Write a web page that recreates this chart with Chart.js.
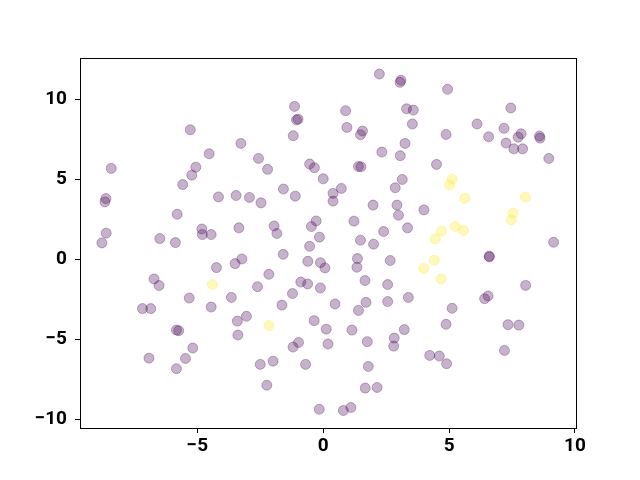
<!DOCTYPE html>
<html>
<head>
<meta charset="utf-8">
<script src="https://cdn.jsdelivr.net/npm/chart.js@4"></script>
<style>
  html, body { margin: 0; padding: 0; background: #fff; }
</style>
</head>
<body>
<canvas id="graf" width="640" height="480"></canvas>
<script>
// clase 0 (morado)
const moradoX = [2.23, 3.09, 3.05, 4.94, -1.14, -1.06, -1.0, -1.19, -3.27, -4.53, -2.57, -2.21, -0.54, -0.35, 0.0,
  -5.28, -8.42, -5.06, -5.22, -5.58, 0.89, 3.31, 3.58, 3.54, 0.94, 1.56, 1.48, 4.88, 3.25, 2.33, 3.06, 1.40, 1.50,
  4.50, 3.14, 7.45, 6.11, 7.18, 6.57, 7.86, 7.74, 8.59, 8.61, 7.26, 7.57, 7.92, 8.96, -8.63, -8.67, -5.80, -4.82,
  -4.80, -8.62, -8.79, -6.49, -5.87, -6.72, -6.52, -5.32, -7.18, -6.85, -4.16, -3.46, -2.93, -2.47, -1.58, -1.11,
  0.39, 0.39, 0.72, -4.45, -3.35, -1.95, -1.84, -0.28, -0.47, -0.15, -0.54, -1.59, -3.23, -3.50, -4.24, -0.61,
  -0.11, 0.07, -2.16, -2.61, -0.89, -0.62, -0.11, -3.65, -1.22, -4.45, -1.64, 2.86, 1.98, 2.93, 2.99, 4.0, 1.22,
  2.40, 3.35, 1.48, 2.0, 1.36, 1.34, 2.66, 1.66, 2.56, 0.47, 1.70, 2.56, 3.38, 1.40, 5.12, 9.15, 6.59, 6.60, 8.04,
  6.55, 6.41, -5.83, -5.74, -5.18, -6.92, -5.47, -5.83, -3.41, -3.05, -3.39, -0.36, 0.12, 0.19, -0.98, -1.20,
  -2.50, -1.99, -0.70, -2.24, -0.16, 1.14, 1.75, 3.22, 2.82, 2.80, 4.88, 4.23, 4.61, 4.90, 1.79, 1.67, 2.14, 0.80,
  1.10, 7.34, 7.77, 7.20];
const moradoY = [11.56, 11.17, 11.04, 10.61, 9.54, 8.69, 8.75, 7.71, 7.23, 6.58, 6.29, 5.61, 5.94, 5.71, 5.02,
  8.08, 5.67, 5.75, 5.25, 4.66, 9.27, 9.39, 9.31, 8.44, 8.23, 8.0, 7.77, 7.79, 7.23, 6.69, 6.46, 5.79, 5.77,
  5.92, 4.98, 9.44, 8.44, 8.17, 7.64, 7.83, 7.62, 7.69, 7.56, 7.25, 6.89, 6.89, 6.29, 3.79, 3.58, 2.81, 1.89,
  1.54, 1.63, 1.02, 1.29, 1.04, -1.23, -1.64, -2.42, -3.08, -3.08, 3.89, 3.98, 3.86, 3.52, 4.38, 3.94,
  4.11, 3.63, 4.42, 1.54, 1.96, 2.08, 1.61, 2.39, 2.04, 1.38, 0.81, 0.31, 0.02, -0.27, -0.52, -0.13,
  -0.21, -0.54, -0.94, -1.71, -1.42, -1.54, -1.79, -2.38, -2.14, -2.98, -2.86, 4.46, 3.38, 3.38, 2.75, 3.08, 2.38,
  1.73, 1.96, 1.19, 0.94, 0.04, -0.50, -0.08, -1.33, -1.58, -2.79, -2.69, -2.64, -2.38, -3.19, -3.06, 1.06, 0.19, 0.15, -1.63,
  -2.29, -2.46, -4.42, -4.46, -5.54, -6.17, -6.19, -6.83, -3.86, -3.56, -4.73, -3.83, -4.36, -5.29, -5.19, -5.48,
  -6.56, -6.36, -6.56, -7.86, -9.36, -4.42, -5.14, -4.39, -4.92, -5.42, -4.06, -6.0, -6.04, -6.52, -6.69, -8.04, -8.0, -9.44,
  -9.25, -4.08, -4.11, -5.69];

// clase 1 (amarillo)
const amarilloX = [5.12, 5.02, 5.62, 8.03, 7.54, 7.47, 5.25, 5.57, 4.70, 4.45, 4.41, 3.99, 4.68, -4.40, -2.15];
const amarilloY = [5.0, 4.63, 3.81, 3.89, 2.88, 2.46, 2.04, 1.81, 1.75, 1.27, -0.06, -0.58, -1.23, -1.58, -4.13];

const ticksX = [-5, 0, 5, 10];
const ticksY = [-10, -5, 0, 5, 10];

const puntos = (xs, ys) => xs.map((x, i) => ({ x: x, y: ys[i] }));

// marco negro alrededor del area
const marco = {
  id: 'marco',
  afterDraw(chart) {
    const a = chart.chartArea;
    const c = chart.ctx;
    c.save();
    c.strokeStyle = '#000';
    c.lineWidth = 1;
    c.strokeRect(Math.round(a.left) + 0.5, Math.round(a.top) + 0.5, Math.round(a.right - a.left), Math.round(a.bottom - a.top));
    c.restore();
  }
};

const menos = v => String(v).replace('-', '\u2212');

new Chart(document.getElementById('graf'), {
  type: 'scatter',
  data: {
    datasets: [
      {
        data: puntos(moradoX, moradoY),
        backgroundColor: 'rgba(68,1,84,0.3)',
        borderColor: 'rgba(68,1,84,0.3)',
        borderWidth: 1,
        pointRadius: 5,
        pointHoverRadius: 5
      },
      {
        data: puntos(amarilloX, amarilloY),
        backgroundColor: 'rgba(253,231,37,0.3)',
        borderColor: 'rgba(253,231,37,0.3)',
        borderWidth: 1,
        pointRadius: 5,
        pointHoverRadius: 5
      }
    ]
  },
  options: {
    responsive: false,
    animation: false,
    devicePixelRatio: 1,
    layout: { padding: { top: 58, right: 64, left: 0, bottom: 0 } },
    scales: {
      x: {
        min: -9.66,
        max: 10.04,
        afterBuildTicks: s => { s.ticks = ticksX.map(v => ({ value: v })); },
        afterFit: s => { s.height = 52; },
        grid: { drawOnChartArea: false, drawTicks: true, tickLength: 5, color: '#000' },
        border: { display: true, color: '#000' },
        ticks: {
          color: '#000',
          padding: 2,
          maxRotation: 0,
          font: { family: 'Roboto', size: 19, weight: 'bold' },
          callback: menos
        }
      },
      y: {
        min: -10.53,
        max: 12.56,
        afterBuildTicks: s => { s.ticks = ticksY.map(v => ({ value: v })); },
        afterFit: s => { s.width = 80; },
        grid: { drawOnChartArea: false, drawTicks: true, tickLength: 5, color: '#000' },
        border: { display: true, color: '#000' },
        ticks: {
          color: '#000',
          padding: 8,
          font: { family: 'Roboto', size: 19, weight: 'bold' },
          callback: menos
        }
      }
    },
    plugins: {
      legend: { display: false },
      tooltip: { enabled: false }
    }
  },
  plugins: [marco]
});
</script>
</body>
</html>
